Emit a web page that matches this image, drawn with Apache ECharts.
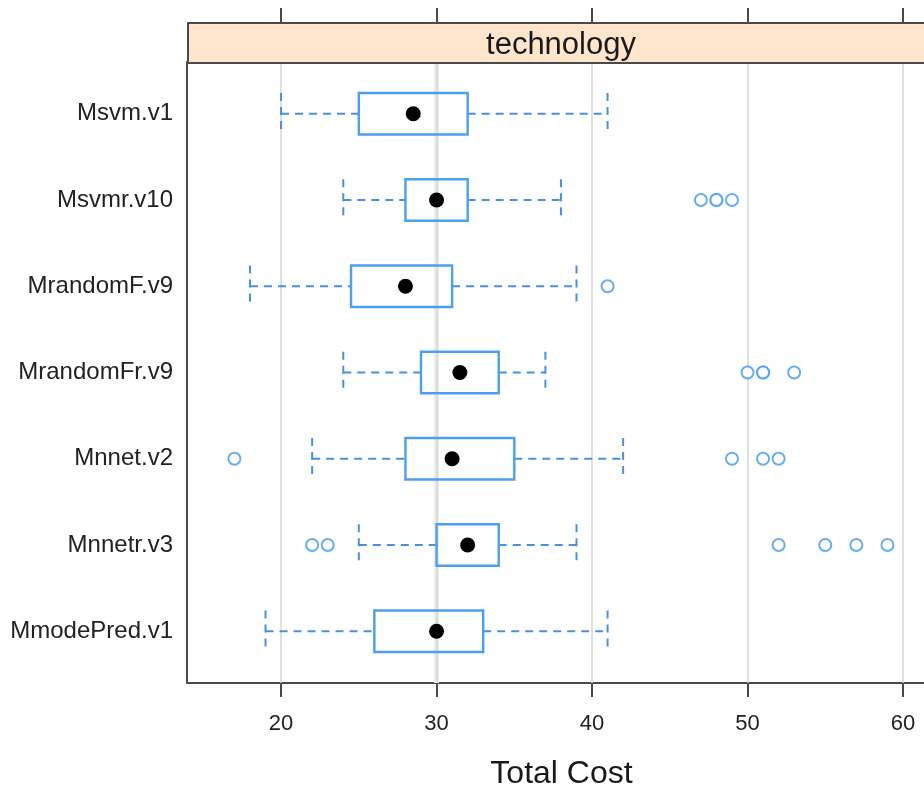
<!DOCTYPE html>
<html>
<head>
<meta charset="utf-8">
<script src="https://cdn.jsdelivr.net/npm/echarts@6/dist/echarts.min.js"></script>
<style>
  html, body { margin: 0; padding: 0; background: #fff; }
  #chart { width: 924px; height: 789px; }
</style>
</head>
<body>
<div id="chart"></div>
<script>
// Box-and-whisker summaries per model (Total Cost)
const models = ['Msvm.v1', 'Msvmr.v10', 'MrandomF.v9', 'MrandomFr.v9', 'Mnnet.v2', 'Mnnetr.v3', 'MmodePred.v1'];
const whiskerLow  = [20, 24, 18,   24,   22, 25, 19];
const quartile1   = [25, 28, 24.5, 29,   28, 30, 26];
const medians     = [28.5, 30, 28, 31.5, 31, 32, 30];
const quartile3   = [32, 32, 31,   34,   35, 34, 33];
const whiskerHigh = [41, 38, 39,   37,   42, 39, 41];
const outliers = [
  [],
  [47, 48, 48, 49],
  [41],
  [50, 51, 51, 53],
  [17, 49, 51, 52],
  [22, 23, 52, 55, 57, 59],
  []
];
const xTicks = [20, 30, 40, 50, 60];
const refLines = [30];
const stripLabel = 'technology';
const xTitle = 'Total Cost';

const FONT = "'Liberation Sans', Arial, sans-serif";
const BOX_COLOR = '#4d9ff0';
const WHISKER_COLOR = '#4a8fe3';
const X_MIN = 13.95, X_MAX = 61.35;
const BOX_SPAN = 0.48;

const boxData = models.map((m, i) => [i, whiskerLow[i], quartile1[i], medians[i], quartile3[i], whiskerHigh[i]]);
const outlierData = [];
outliers.forEach((arr, i) => arr.forEach(v => outlierData.push([v, i])));

function renderBox(params, api) {
  const idx = api.value(0);
  const lo = api.coord([api.value(1), idx]);
  const q1 = api.coord([api.value(2), idx]);
  const md = api.coord([api.value(3), idx]);
  const q3 = api.coord([api.value(4), idx]);
  const hi = api.coord([api.value(5), idx]);
  const half = api.size([0, BOX_SPAN])[1] / 2;
  const y = lo[1];
  const dash = { stroke: WHISKER_COLOR, lineWidth: 2, lineDash: [8, 6] };
  return {
    type: 'group',
    children: [
      { type: 'line', shape: { x1: lo[0], y1: y, x2: q1[0], y2: y }, style: dash },
      { type: 'line', shape: { x1: q3[0], y1: y, x2: hi[0], y2: y }, style: dash },
      { type: 'line', shape: { x1: lo[0], y1: y - half, x2: lo[0], y2: y + half }, style: dash },
      { type: 'line', shape: { x1: hi[0], y1: y - half, x2: hi[0], y2: y + half }, style: dash },
      { type: 'rect', shape: { x: q1[0], y: y - half, width: q3[0] - q1[0], height: 2 * half },
        style: { fill: 'none', stroke: BOX_COLOR, lineWidth: 2.4 } },
      { type: 'circle', shape: { cx: md[0], cy: y, r: 7.5 }, style: { fill: '#000' } }
    ]
  };
}

const chart = echarts.init(document.getElementById('chart'));
chart.setOption({
  backgroundColor: '#fff',
  animation: false,
  textStyle: { fontFamily: FONT },
  grid: { left: 187, right: 0, top: 62, bottom: 106, outerBoundsMode: 'none', containLabel: false },
  graphic: [
    {
      type: 'rect', left: 187, top: 22, z: 10,
      shape: { width: 760, height: 40 },
      style: { fill: '#ffe5cc', stroke: '#4a4a4a', lineWidth: 2 }
    },
    {
      type: 'text', x: 561, y: 45, z: 11,
      style: { text: stripLabel, font: '31px ' + FONT, fill: '#1a1a1a', align: 'center', verticalAlign: 'middle' }
    }
  ],
  xAxis: [
    {
      type: 'value', min: X_MIN, max: X_MAX, position: 'bottom',
      name: xTitle, nameLocation: 'middle', nameGap: 75,
      nameTextStyle: { fontSize: 32, color: '#1a1a1a', fontFamily: FONT, padding: [0, 0, 0, 12] },
      axisLine: { show: true, onZero: false, lineStyle: { color: '#4a4a4a', width: 2 } },
      axisTick: { show: true, customValues: xTicks, length: 14, lineStyle: { color: '#4a4a4a', width: 2 } },
      axisLabel: { customValues: xTicks, margin: 30, fontSize: 22, color: '#222', fontFamily: FONT },
      splitLine: { show: false }
    },
    {
      type: 'value', min: X_MIN, max: X_MAX, position: 'top', offset: 40,
      axisLine: { show: false, onZero: false },
      axisTick: { show: true, customValues: xTicks, length: 14, lineStyle: { color: '#4a4a4a', width: 2 } },
      axisLabel: { show: false },
      splitLine: { show: false }
    }
  ],
  yAxis: {
    type: 'value', min: -0.6, max: 6.6, inverse: true,
    axisLine: { show: true, onZero: false, lineStyle: { color: '#4a4a4a', width: 2 } },
    axisTick: { show: false },
    axisLabel: {
      customValues: models.map((m, i) => i),
      formatter: v => models[Math.round(v)],
      margin: 14, fontSize: 24, color: '#222', fontFamily: FONT
    },
    splitLine: { show: false }
  },
  series: [
    {
      // reference grid behind the boxes
      type: 'line', data: [], z: 1, silent: true,
      markLine: {
        z: 1, silent: true, symbol: 'none', label: { show: false },
        data: refLines.map(v => ({ xAxis: v, lineStyle: { color: '#ebebeb', width: 5, type: 'solid' } }))
          .concat(xTicks.map(v => ({ xAxis: v, lineStyle: { color: '#d6d6d6', width: 1.5, type: 'solid' } })))
      }
    },
    {
      type: 'custom', z: 6, renderItem: renderBox,
      encode: { x: [1, 2, 3, 4, 5], y: 0 },
      data: boxData
    },
    {
      type: 'scatter', z: 7, symbol: 'emptyCircle', symbolSize: 12,
      itemStyle: { color: BOX_COLOR, borderWidth: 2.5, opacity: 0.85 },
      data: outlierData
    }
  ]
});
</script>
</body>
</html>
